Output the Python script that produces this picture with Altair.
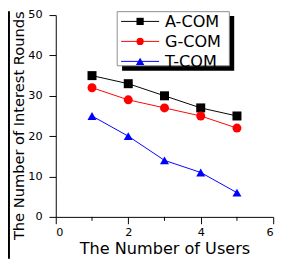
import altair as alt
import pandas as pd

users = [1, 2, 3, 4, 5]
series_names = ["A-COM", "G-COM", "T-COM"]
a_com = [35, 33, 30, 27, 25]
g_com = [32, 29, 27, 25, 22]
t_com = [25, 20, 14, 11, 6]
colors = ["#000000", "#ff0000", "#0000ff"]
shapes = ["square", "circle", "triangle-up"]
marker_sizes = [85, 85, 115]
x_ticks = [0, 2, 4, 6]
x_minor = [1, 3, 5]
y_ticks = list(range(0, 55, 5))

rows = []
for name, vals in zip(series_names, [a_com, g_com, t_com]):
    for u, v in zip(users, vals):
        rows.append({"users": u, "rounds": v, "series": name})
df = pd.DataFrame(rows)

W, H = 223, 207
PAD_L, PAD_T, PAD_R, PAD_B = 49, 4, 8, 43
FONT = "DejaVu Sans"

xs = alt.Scale(domain=[0, 6], nice=False)
ys = alt.Scale(domain=[0, 50], nice=False)
color = alt.Color("series:N", scale=alt.Scale(domain=series_names, range=colors), legend=None)
shape = alt.Shape("series:N", scale=alt.Scale(domain=series_names, range=shapes), legend=None)
size = alt.Size("series:N", scale=alt.Scale(domain=series_names, range=marker_sizes), legend=None)

xaxis = alt.Axis(values=x_ticks, title="The Number of Users", titleFont=FONT, titleFontSize=16.5,
                 titleFontWeight="normal", titleY=38, titleBaseline="alphabetic",
                 labelFont=FONT, labelFontSize=11.5, tickSize=7, labelPadding=3,
                 domainColor="black", tickColor="black", labelColor="black",
                 titleColor="black", grid=False)
yaxis = alt.Axis(values=y_ticks, title="The Number of Interest Rounds", titleFont=FONT,
                 titleFontSize=15, titleFontWeight="normal", titleX=-33, titleY=113,
                 titleBaseline="alphabetic", labelFont=FONT, labelFontSize=11.5, tickSize=7,
                 labelPadding=7, domainColor="black", tickColor="black", labelColor="black",
                 titleColor="black", grid=False)

base = alt.Chart(df)
lines = base.mark_line(strokeWidth=1).encode(
    x=alt.X("users:Q", scale=xs, axis=xaxis),
    y=alt.Y("rounds:Q", scale=ys, axis=yaxis),
    color=color,
    detail="series:N",
)
points = base.mark_point(filled=True, opacity=1).encode(
    x=alt.X("users:Q", scale=xs),
    y=alt.Y("rounds:Q", scale=ys),
    color=color, shape=shape, size=size,
)

minor = alt.Chart(pd.DataFrame({"users": x_minor})).mark_rule(color="black", strokeWidth=1).encode(
    x=alt.X("users:Q", scale=xs), y=alt.value(H), y2=alt.value(H + 4)
)

one = pd.DataFrame({"a": [0]})
shadow = alt.Chart(one).mark_rect(color="black").encode(
    x=alt.value(68), x2=alt.value(183), y=alt.value(1), y2=alt.value(57)
)
box = alt.Chart(one).mark_rect(fill="white", stroke="#8c8c8c", strokeWidth=1).encode(
    x=alt.value(63), x2=alt.value(178), y=alt.value(-3.5), y2=alt.value(52)
)
border = alt.Chart(one).mark_rule(color="black", strokeWidth=2).encode(
    x=alt.value(-48), y=alt.value(-4), y2=alt.value(H + PAD_B)
)

legend_layers = []
for i, name in enumerate(series_names):
    ly = 6.5 + 20.5 * i
    ldf = pd.DataFrame({"series": [name]})
    legend_layers.append(alt.Chart(ldf).mark_rule(strokeWidth=1).encode(
        x=alt.value(67), x2=alt.value(106), y=alt.value(ly), color=color))
    legend_layers.append(alt.Chart(ldf).mark_point(filled=True, opacity=1).encode(
        x=alt.value(86.5), y=alt.value(ly), color=color, shape=shape,
        size=alt.value(55 if i < 2 else 75)))
    legend_layers.append(alt.Chart(ldf).mark_text(align="left", baseline="middle", font=FONT,
                                                   fontSize=16.5, color="black").encode(
        x=alt.value(112), y=alt.value(ly + 0.5), text="series:N"))

chart = alt.layer(lines, points, minor, border, shadow, box, *legend_layers).properties(
    width=W, height=H,
    padding={"left": PAD_L, "top": PAD_T, "right": PAD_R, "bottom": PAD_B},
    autosize=alt.AutoSizeParams(type="none"),
).configure_view(stroke=None)

chart.save("out.html", embed_options={"renderer": "svg", "actions": False})
